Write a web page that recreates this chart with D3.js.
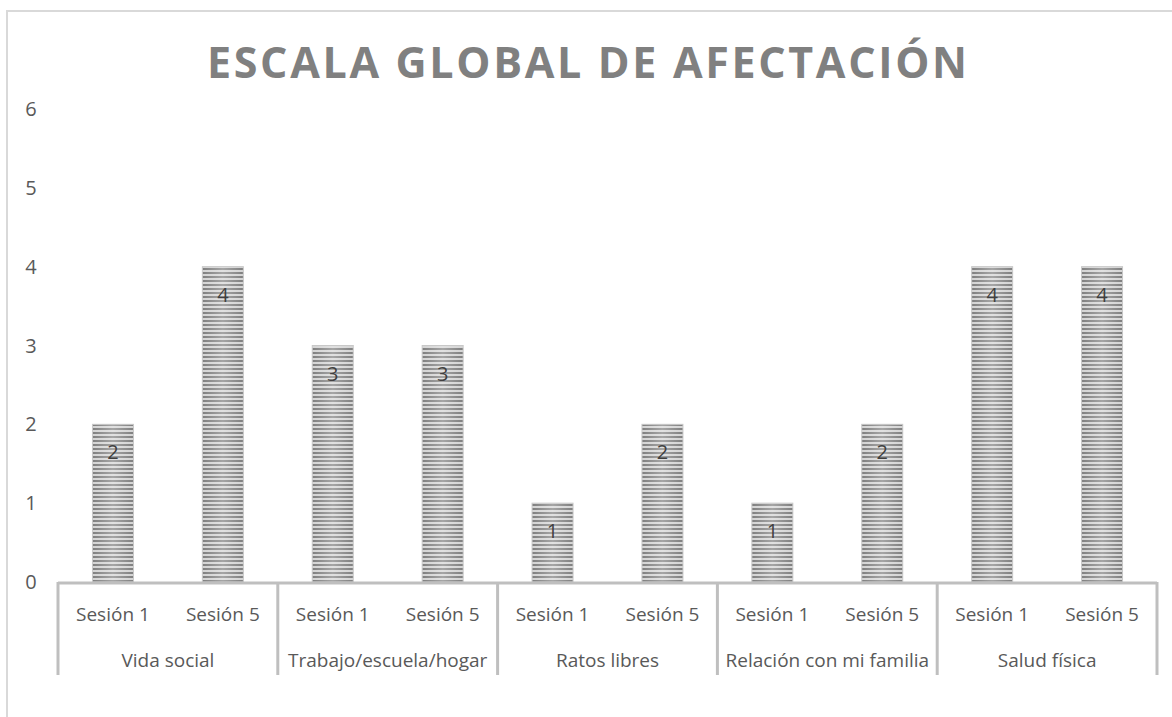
<!DOCTYPE html>
<html>
<head>
<meta charset="utf-8">
<script src="https://cdn.jsdelivr.net/npm/d3@7"></script>
<style>
  body { margin: 0; background: #fff; }
  text { font-family: "Open Sans", "DejaVu Sans", sans-serif; }
</style>
</head>
<body>
<div id="chart"></div>
<script>
// data
var groups = ["Vida social", "Trabajo/escuela/hogar", "Ratos libres", "Relación con mi familia", "Salud física"];
var sessions = ["Sesión 1", "Sesión 5"];
var values = [2, 4, 3, 3, 1, 2, 1, 2, 4, 4];
var yTicks = [0, 1, 2, 3, 4, 5, 6];

var width = 1172, height = 717;
var plotLeft = 58, plotRight = 1157, plotTop = 109, zeroY = 582;

var svg = d3.select("#chart").append("svg")
    .attr("width", width)
    .attr("height", height);

// outer chart border
svg.append("rect")
    .attr("x", 7).attr("y", 11)
    .attr("width", width + 10).attr("height", height + 10)
    .attr("fill", "none")
    .attr("stroke", "#d9d9d9")
    .attr("stroke-width", 2);

var defs = svg.append("defs");
var pat = defs.append("pattern")
    .attr("id", "stripes")
    .attr("patternUnits", "userSpaceOnUse")
    .attr("width", 8).attr("height", 4);
pat.append("rect").attr("width", 8).attr("height", 4).attr("fill", "#d4d4d4");
pat.append("rect").attr("width", 8).attr("height", 2).attr("fill", "#7f7f7f");

var grad = defs.append("linearGradient").attr("id", "shine");
grad.append("stop").attr("offset", "0%").attr("stop-color", "#fff").attr("stop-opacity", 0);
grad.append("stop").attr("offset", "50%").attr("stop-color", "#fff").attr("stop-opacity", 0.3);
grad.append("stop").attr("offset", "100%").attr("stop-color", "#fff").attr("stop-opacity", 0);

var idx = d3.range(values.length);
var x = d3.scaleBand().domain(idx).range([plotLeft, plotRight]).paddingInner(0.627).paddingOuter(0.3135);
var y = d3.scaleLinear().domain([0, 6]).range([zeroY, plotTop]);

// title
svg.append("text")
    .attr("x", 587).attr("y", 78)
    .attr("text-anchor", "middle")
    .attr("font-size", 43)
    .attr("font-weight", "bold")
    .attr("fill", "#808080")
    .attr("textLength", 760)
    .attr("lengthAdjust", "spacing")
    .text("ESCALA GLOBAL DE AFECTACIÓN");

// y tick labels (no axis line)
svg.selectAll(".ytick")
    .data(yTicks)
    .enter()
    .append("text")
    .attr("class", "ytick")
    .attr("x", 31)
    .attr("y", d => y(d))
    .attr("dy", "0.35em")
    .attr("text-anchor", "middle")
    .attr("font-size", 20)
    .attr("fill", "#595959")
    .text(d => d);

// bars
var bars = svg.selectAll(".bar").data(values).enter();
bars.append("rect")
    .attr("x", (d, i) => x(i))
    .attr("y", d => y(d))
    .attr("width", x.bandwidth())
    .attr("height", d => zeroY - y(d))
    .attr("fill", "url(#stripes)");
bars.append("rect")
    .attr("x", (d, i) => x(i))
    .attr("y", d => y(d))
    .attr("width", x.bandwidth())
    .attr("height", d => zeroY - y(d))
    .attr("fill", "url(#shine)")
    .attr("stroke", "#c8c8c8")
    .attr("stroke-width", 1);

// value labels
svg.selectAll(".val")
    .data(values)
    .enter()
    .append("text")
    .attr("class", "val")
    .attr("x", (d, i) => x(i) + x.bandwidth() / 2)
    .attr("y", d => y(d) + 28)
    .attr("dy", "0.35em")
    .attr("text-anchor", "middle")
    .attr("font-size", 20)
    .attr("fill", "#404040")
    .text(d => d);

// x axis line
svg.append("line")
    .attr("x1", plotLeft).attr("x2", plotRight)
    .attr("y1", zeroY + 1).attr("y2", zeroY + 1)
    .attr("stroke", "#bfbfbf")
    .attr("stroke-width", 3);

// group separators
var step = x.step();
var bounds = d3.range(groups.length + 1).map(g => plotLeft + g * 2 * step);
svg.selectAll(".sep")
    .data(bounds)
    .enter()
    .append("line")
    .attr("x1", d => d).attr("x2", d => d)
    .attr("y1", zeroY).attr("y2", 675)
    .attr("stroke", "#bfbfbf")
    .attr("stroke-width", 3);

// session labels
svg.selectAll(".sess")
    .data(idx)
    .enter()
    .append("text")
    .attr("x", i => x(i) + x.bandwidth() / 2)
    .attr("y", 614)
    .attr("dy", "0.35em")
    .attr("text-anchor", "middle")
    .attr("font-size", 19)
    .attr("fill", "#595959")
    .text(i => sessions[i % 2]);

// group labels
svg.selectAll(".grp")
    .data(groups)
    .enter()
    .append("text")
    .attr("x", (d, g) => plotLeft + (g * 2 + 1) * step)
    .attr("y", 660)
    .attr("dy", "0.35em")
    .attr("text-anchor", "middle")
    .attr("font-size", 19)
    .attr("fill", "#595959")
    .text(d => d);
</script>
</body>
</html>
